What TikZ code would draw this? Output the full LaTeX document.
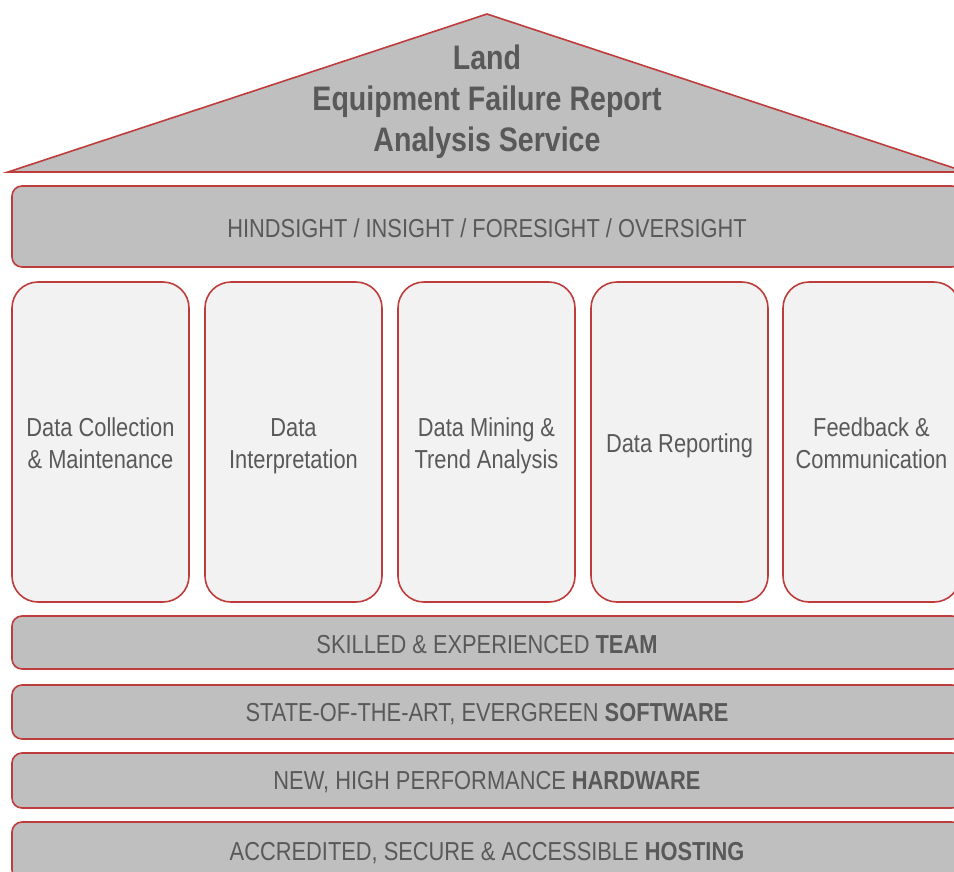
\documentclass[tikz,border=0pt]{standalone}
\usepackage{fontspec}
\setmainfont{Liberation Sans}[FakeStretch=0.84]
\definecolor{rd}{RGB}{190,60,60}
\definecolor{bandfill}{RGB}{191,191,191}
\definecolor{colfill}{RGB}{242,242,242}
\definecolor{txt}{RGB}{89,89,89}
\newcommand\topstrut{\rule{0pt}{30.4pt}}
\newcommand\bandstrut{\rule{0pt}{22pt}}
\begin{document}
\begin{tikzpicture}[x=1pt,y=-1pt,
  band/.style={draw=rd,line width=1.6pt,fill=bandfill,rounded corners=10pt,
    minimum width=950pt,inner sep=0pt,text=txt,font=\fontsize{26}{30}\selectfont},
  pillar/.style={draw=rd,line width=1.6pt,fill=colfill,rounded corners=26pt,
    minimum width=177pt,minimum height=320pt,inner sep=0pt,align=center,text=txt,
    font=\fontsize{26}{32}\selectfont}]
\useasboundingbox (0,0) rectangle (954,871);
\clip (0,0) rectangle (954,871);
% roof
\draw[draw=rd,line width=1.6pt,fill=bandfill] (8,172) -- (487,14) -- (966,172) -- cycle;
\node[align=center,text=txt,font=\bfseries\fontsize{34}{41}\selectfont] (title) at (487,102)
  {Land\\Equipment Failure Report\\Analysis Service};
% top band
\node[band,minimum height=81pt] (sight) at (487,226.5) {\bandstrut HINDSIGHT / INSIGHT / FORESIGHT / OVERSIGHT};
% pillars
\node[pillar] (p1) at (100.5,442) {\topstrut Data Collection\strut\\\& Maintenance\strut};
\node[pillar] (p2) at (293.5,442) {\topstrut Data\strut\\Interpretation\strut};
\node[pillar] (p3) at (486.5,442) {\topstrut Data Mining \&\strut\\Trend Analysis\strut};
\node[pillar] (p4) at (679.5,442) {\topstrut Data Reporting\strut};
\node[pillar] (p5) at (871.5,442) {\topstrut Feedback \&\strut\\Communication\strut};
% base bands
\node[band,minimum height=53pt] (team) at (487,642.5) {\bandstrut SKILLED \& EXPERIENCED \textbf{TEAM}};
\node[band,minimum height=54pt] (soft) at (487,712) {\bandstrut STATE-OF-THE-ART, EVERGREEN \textbf{SOFTWARE}};
\node[band,minimum height=55pt] (hard) at (487,780.5) {\bandstrut NEW, HIGH PERFORMANCE \textbf{HARDWARE}};
\node[band,minimum height=58pt] (host) at (487,851) {\bandstrut ACCREDITED, SECURE \& ACCESSIBLE \textbf{HOSTING}};
\end{tikzpicture}
\end{document}
